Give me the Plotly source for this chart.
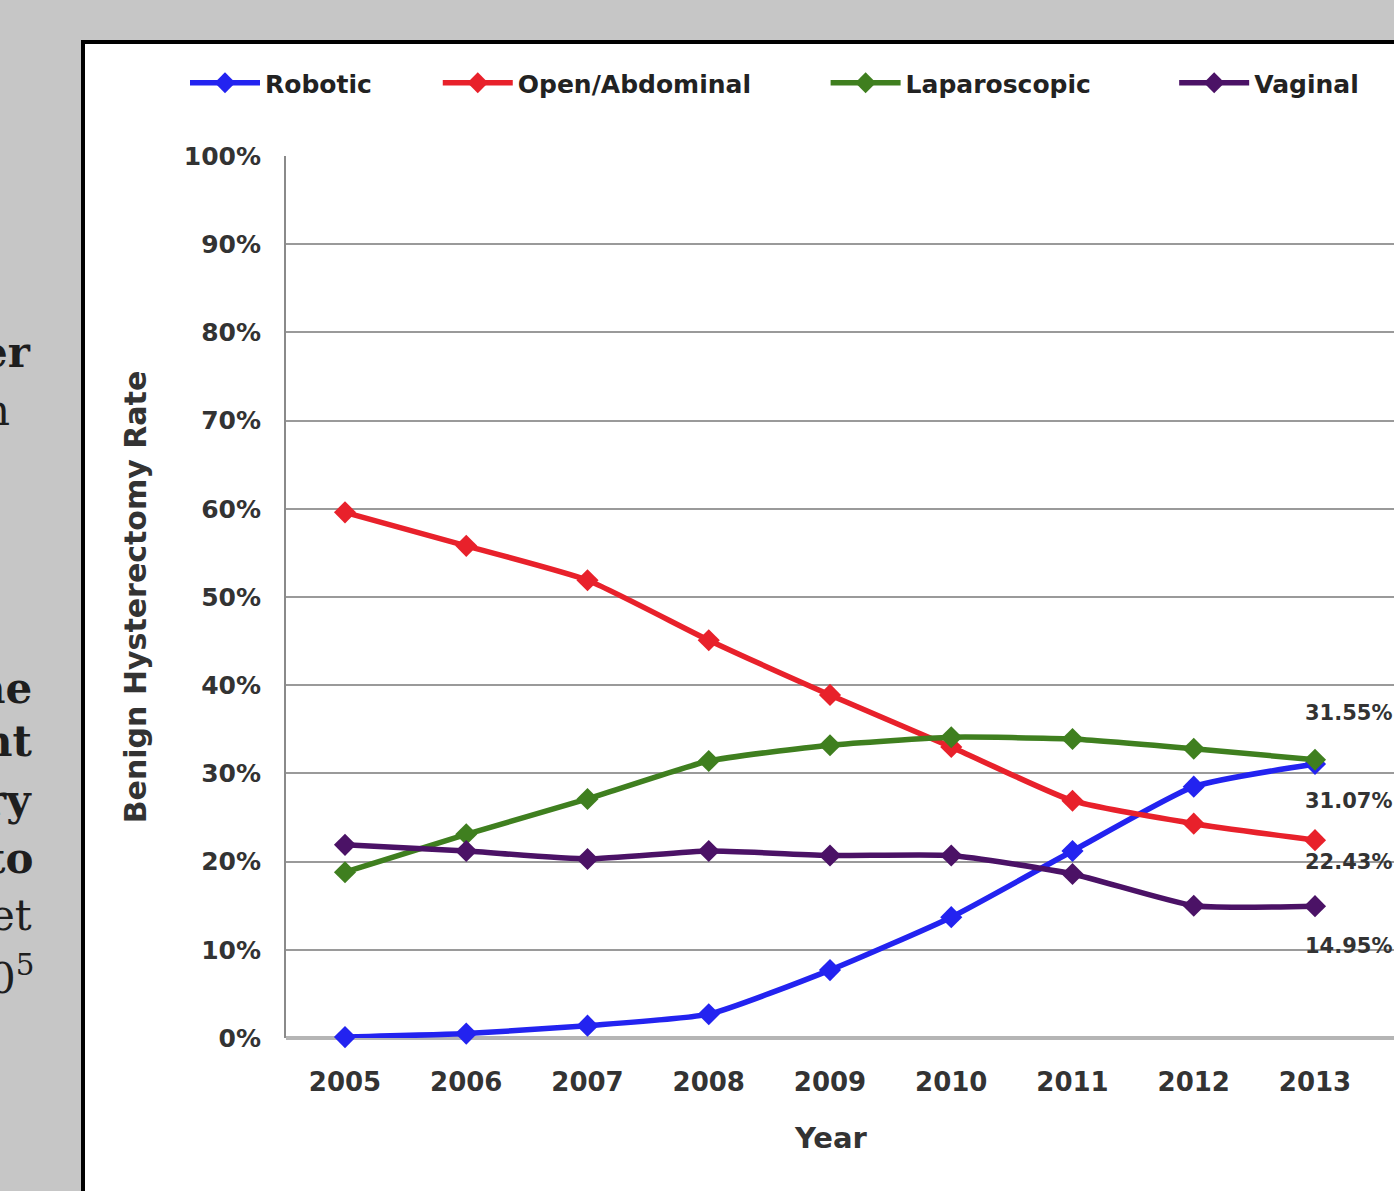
import plotly.graph_objects as go

# Benign hysterectomy route by year, 2005-2013
years = [2005, 2006, 2007, 2008, 2009, 2010, 2011, 2012, 2013]
robotic = [0.1, 0.5, 1.4, 2.7, 7.7, 13.7, 21.2, 28.5, 31.07]
open_abdominal = [59.6, 55.8, 51.9, 45.1, 38.9, 33.0, 26.9, 24.3, 22.43]
laparoscopic = [18.8, 23.1, 27.1, 31.4, 33.2, 34.1, 33.9, 32.8, 31.55]
vaginal = [21.9, 21.2, 20.3, 21.2, 20.7, 20.7, 18.6, 15.0, 14.95]

series_names = ["Robotic", "Open/Abdominal", "Laparoscopic", "Vaginal"]
series_values = [robotic, open_abdominal, laparoscopic, vaginal]
series_colors = ["#2323f0", "#e8212b", "#3f7f1f", "#4b1266"]
# extra space after each legend entry (non-breaking spaces)
legend_pad = [7, 8, 9, 0]

y_ticks = [0, 10, 20, 30, 40, 50, 60, 70, 80, 90, 100]
y_tick_labels = [f"{v}%" for v in y_ticks]

# end-of-line value labels (pixel offsets keep them clear of the lines)
end_labels = [
    ("Laparoscopic", laparoscopic[-1], 47),
    ("Robotic", robotic[-1], -37),
    ("Open/Abdominal", open_abdominal[-1], -22),
    ("Vaginal", vaginal[-1], -40),
]

# fragments of the neighbouring poster column
side_text = [
    ("<b>er</b>", 33, 352),
    ("n", 12, 410),
    ("<b>he</b>", 34, 688),
    ("<b>nt</b>", 35, 742),
    ("<b>ry</b>", 34, 800),
    ("<b>to</b>", 35, 858),
    ("et", 34, 915),
    ("0<sup>5</sup>", 36, 975),
]

W, H = 1394, 1191
PL, PR, PT, PB = 286, 1394, 156, 1038


def px_x(p):
    return (p - PL) / (PR - PL)


def px_y(p):
    return (PB - p) / (PB - PT)


fig = go.Figure()
for name, vals, col, pad in zip(series_names, series_values, series_colors, legend_pad):
    fig.add_trace(go.Scatter(
        x=years, y=vals, name=name + "\u00a0" * pad, mode="lines+markers",
        line=dict(color=col, width=5.5, shape="spline", smoothing=0.5),
        marker=dict(symbol="diamond", size=17, color=col),
        cliponaxis=False,
    ))

font_main = "DejaVu Sans"

for key, val, shift in end_labels:
    fig.add_annotation(
        x=years[-1], y=val, xref="x", yref="y", xanchor="left", yanchor="middle",
        xshift=-12, yshift=shift, showarrow=False,
        text=f"<b>{val:.2f}%</b>",
        font=dict(family=font_main, size=21, color="#333333"),
    )

for txt, right, yc in side_text:
    fig.add_annotation(
        x=px_x(right), y=px_y(yc), xref="paper", yref="paper",
        xanchor="right", yanchor="middle", showarrow=False, text=txt,
        font=dict(family="DejaVu Serif", size=42, color="#1e1e1e"),
    )

# x-axis title
fig.add_annotation(
    x=px_x(831), y=px_y(1138), xref="paper", yref="paper",
    xanchor="center", yanchor="middle", showarrow=False, text="<b>Year</b>",
    font=dict(family=font_main, size=29, color="#333333"),
)

# white chart panel with black frame
fig.add_shape(
    type="rect", xref="paper", yref="paper", layer="below",
    x0=px_x(83), x1=px_x(1420), y0=px_y(1220), y1=px_y(42),
    fillcolor="white", line=dict(color="black", width=4),
)

fig.update_layout(
    width=W, height=H,
    margin=dict(l=PL, r=W - PR, t=PT, b=H - PB, pad=0),
    paper_bgcolor="#c6c6c6",
    plot_bgcolor="rgba(0,0,0,0)",
    font=dict(family=font_main, color="#333333"),
    showlegend=True,
    legend=dict(
        orientation="h", x=px_x(185), y=px_y(83), xanchor="left", yanchor="middle",
        font=dict(family=font_main, size=25, color="#222222", weight="bold"),
        itemwidth=70, bgcolor="rgba(0,0,0,0)",
    ),
    xaxis=dict(
        range=[years[0] - 59 / 121.25, years[-1] + 79 / 121.25],
        tickvals=years, ticktext=[str(y) for y in years],
        showgrid=False, zeroline=False,
        showline=False, ticks="", ticklabelstandoff=26,
        tickfont=dict(family=font_main, size=26, color="#333333", weight="bold"),
    ),
    yaxis=dict(
        range=[0, 100], tickvals=y_ticks, ticktext=y_tick_labels,
        showgrid=True, gridcolor="#9a9a9a", gridwidth=2,
        zeroline=True, zerolinecolor="#b5b5b5", zerolinewidth=4,
        showline=True, linecolor="#8a8a8a", linewidth=2,
        ticks="", ticklabelstandoff=18,
        tickfont=dict(family=font_main, size=25, color="#333333", weight="bold"),
        title=dict(text="<b>Benign Hysterectomy Rate</b>", standoff=28,
                   font=dict(family=font_main, size=30, color="#333333")),
    ),
)

fig.write_html("out.html")
